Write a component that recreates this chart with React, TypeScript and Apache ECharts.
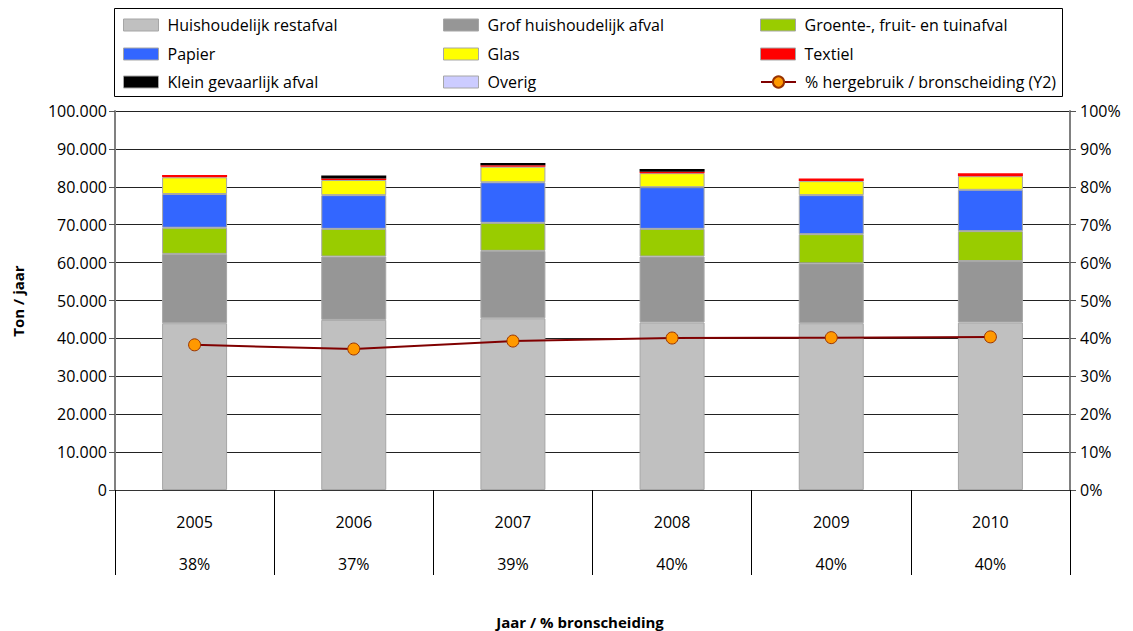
import React, { useEffect, useRef } from "react";
import * as echarts from "echarts";

const years = ["2005", "2006", "2007", "2008", "2009", "2010"];
const restafval = [44000, 44900, 45300, 44200, 44000, 44200];
const grof = [18300, 16700, 17800, 17400, 15800, 16200];
const gft = [6900, 7300, 7400, 7300, 7700, 7900];
const papier = [8900, 8900, 10700, 11000, 10300, 10900];
const glas = [4400, 4000, 4100, 3700, 3700, 3600];
const textiel = [600, 400, 400, 400, 700, 800];
const kga = [0, 800, 600, 700, 0, 0];
const overig = [0, 0, 0, 0, 0, 0];
const hergebruik = [38.3, 37.2, 39.3, 40.1, 40.2, 40.4];

const FONT = "'Open Sans', 'Noto Sans', sans-serif";

const barSeries = [
  { name: "Huishoudelijk restafval", data: restafval, color: "#C0C0C0", border: 1 },
  { name: "Grof huishoudelijk afval", data: grof, color: "#969696", border: 1 },
  { name: "Groente-, fruit- en tuinafval", data: gft, color: "#99CC00", border: 1 },
  { name: "Papier", data: papier, color: "#3366FF", border: 1 },
  { name: "Glas", data: glas, color: "#FFFF00", border: 1 },
  { name: "Textiel", data: textiel, color: "#FF0000", border: 0 },
  { name: "Klein gevaarlijk afval", data: kga, color: "#000000", border: 0 },
  { name: "Overig", data: overig, color: "#CCCCFF", border: 0 },
];
const lineName = "% hergebruik / bronscheiding (Y2)";

const legendOrder = [
  "Huishoudelijk restafval", "Grof huishoudelijk afval", "Groente-, fruit- en tuinafval",
  "Papier", "Glas", "Textiel",
  "Klein gevaarlijk afval", "Overig", lineName,
];
const legendCols = [123, 443, 760];
const legendRows = [14, 43, 71];

export default function App() {
  const ref = useRef<HTMLDivElement>(null);
  useEffect(() => {
    if (!ref.current) return;
    const chart = echarts.init(ref.current, null, { renderer: "svg" });
    const fmtThousands = (v: number) =>
      v === 0 ? "0" : String(v).replace(/\B(?=(\d{3})+(?!\d))/g, ".");
    const legends = legendOrder.map((name, i) => {
      const isLine = name === lineName;
      return {
        left: legendCols[i % 3],
        top: legendRows[Math.floor(i / 3)] - (isLine ? 1 : 0),
        data: isLine ? [name] : [{ name, icon: "rect" }],
        itemWidth: 35,
        itemHeight: isLine ? 14 : 12,
        itemGap: 0,
        padding: 0,
        selectedMode: false,
        itemStyle: isLine ? {} : { borderColor: "#a6a6a6", borderWidth: 1 },
        textStyle: { fontSize: 16, fontFamily: FONT, color: "#000", lineHeight: isLine ? 24 : 22, padding: [0, 0, 0, 4] },
      };
    });
    chart.setOption({
      animation: false,
      textStyle: { fontFamily: FONT },
      legend: legends,
      grid: { left: 115, right: 63, top: 111, bottom: 141, outerBoundsMode: "none", containLabel: false },
      xAxis: {
        type: "category",
        data: years,
        boundaryGap: true,
        axisLine: { lineStyle: { color: "#333", width: 1 } },
        axisTick: { show: true, length: 85, lineStyle: { color: "#000" } },
        axisLabel: {
          margin: 11,
          interval: 0,
          formatter: (v: string, idx: number) => `{y|${v}}\n{p|${Math.round(hergebruik[idx])}%}`,
          rich: {
            y: { fontSize: 16, fontFamily: FONT, color: "#000", lineHeight: 42 },
            p: { fontSize: 16, fontFamily: FONT, color: "#000", lineHeight: 42 },
          },
        },
      },
      yAxis: [
        {
          type: "value",
          min: 0,
          max: 100000,
          interval: 10000,
          axisLine: { show: true, lineStyle: { color: "#808080", width: 2 } },
          axisTick: { show: true, length: 6, lineStyle: { color: "#555" } },
          axisLabel: { fontSize: 16, color: "#000", fontFamily: FONT, margin: 8, formatter: fmtThousands },
          splitLine: { show: true, lineStyle: { color: "#222", width: 1 } },
        },
        {
          type: "value",
          position: "right",
          min: 0,
          max: 100,
          interval: 10,
          axisLine: { show: true, lineStyle: { color: "#808080", width: 2 } },
          axisTick: { show: true, length: 6, lineStyle: { color: "#555" } },
          axisLabel: { fontSize: 16, color: "#000", fontFamily: FONT, margin: 10, formatter: "{value}%" },
          splitLine: { show: false },
        },
      ],
      series: [
        ...barSeries.map((s) => ({
          name: s.name,
          type: "bar",
          stack: "afval",
          data: s.data,
          barWidth: 65,
          itemStyle: { color: s.color, borderColor: "#a6a6a6", borderWidth: s.border },
        })),
        {
          name: lineName,
          type: "line",
          yAxisIndex: 1,
          data: hergebruik,
          symbol: "circle",
          symbolSize: 12,
          lineStyle: { color: "#800000", width: 2 },
          itemStyle: { color: "#FF9900", borderColor: "#993300", borderWidth: 1 },
          z: 5,
        },
      ],
      graphic: [
        {
          type: "rect",
          shape: { x: 114.5, y: 8.5, width: 948, height: 88 },
          style: { fill: "none", stroke: "#000", lineWidth: 1 },
          silent: true,
        },
        {
          type: "text",
          x: 18,
          y: 301,
          rotation: Math.PI / 2,
          style: {
            text: "Ton / jaar",
            font: `bold 15px ${FONT}`,
            fill: "#000",
            align: "center",
            verticalAlign: "middle",
          },
        },
        {
          type: "text",
          x: 580,
          y: 622,
          style: {
            text: "Jaar / % bronscheiding",
            font: `bold 15px ${FONT}`,
            fill: "#000",
            align: "center",
            verticalAlign: "middle",
          },
        },
      ],
    });
    return () => chart.dispose();
  }, []);
  return <div ref={ref} style={{ position: "fixed", left: 0, top: 0, width: 1133, height: 631, background: "#fff" }} />;
}
